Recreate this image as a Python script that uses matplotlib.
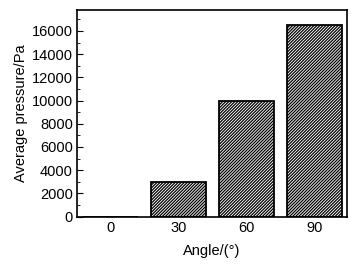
import matplotlib
matplotlib.use("Agg")
import matplotlib.pyplot as plt
from matplotlib.ticker import MultipleLocator

categories = ["0", "30", "60", "90"]
pressure = [0, 3000, 10000, 16500]

plt.rcParams['font.family'] = ['Liberation Sans', 'DejaVu Sans']
plt.rcParams['hatch.linewidth'] = 0.9

fig = plt.figure(figsize=(3.6, 2.65), dpi=100)
ax = fig.add_axes([77/360, 1-216.5/265, 270/360, 207/265])
x = list(range(len(categories)))
ax.bar(x, pressure, width=0.81, color='white', edgecolor='black', hatch='///////////', linewidth=1.3)
ax.set_xlim(-0.49, 3.48)
ax.set_ylim(0, 17850)
ax.set_xticks(x)
ax.set_xticklabels(categories)
ax.yaxis.set_major_locator(MultipleLocator(2000))
ax.yaxis.set_minor_locator(MultipleLocator(1000))
ax.tick_params(axis='y', which='major', direction='in', length=4, labelsize=10.5, pad=3)
ax.tick_params(axis='y', which='minor', direction='in', length=2)
ax.tick_params(axis='x', length=0, labelsize=10.5, pad=3)
ax.set_xlabel("Angle/(°)", fontsize=10.5, labelpad=7)
ax.set_ylabel("Average pressure/Pa", fontsize=10.5, labelpad=3)
for s in ax.spines.values():
    s.set_linewidth(1.2)
fig.savefig("out.png", dpi=100)
